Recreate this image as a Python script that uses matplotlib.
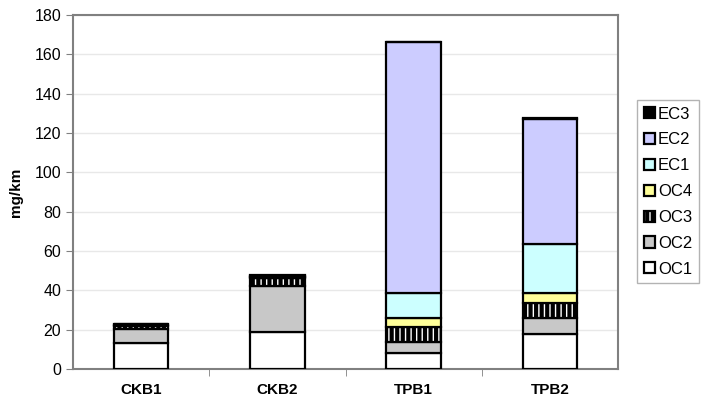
import numpy as np
import matplotlib.pyplot as plt

# carbon fractions per vehicle, mg/km (stacked bottom to top)
categories = ["CKB1", "CKB2", "TPB1", "TPB2"]
OC1 = [13.4, 18.6, 8.3, 18.0]
OC2 = [6.8, 23.6, 5.3, 7.8]
OC3 = [1.8, 3.9, 7.6, 7.9]
OC4 = [0.3, 0.3, 4.7, 5.1]
EC1 = [0.2, 0.2, 12.6, 24.7]
EC2 = [0.4, 0.8, 127.6, 63.4]
EC3 = [0.2, 0.3, 0.3, 0.5]

series = [("OC1", OC1), ("OC2", OC2), ("OC3", OC3), ("OC4", OC4),
          ("EC1", EC1), ("EC2", EC2), ("EC3", EC3)]
colors = {"OC1": "white", "OC2": "#C8C8C8", "OC3": "white", "OC4": "#FFFF99",
          "EC1": "#CCFFFF", "EC2": "#CCCCFF", "EC3": "black"}

plt.rcParams['font.family'] = ['Liberation Sans', 'DejaVu Sans']
plt.rcParams['hatch.linewidth'] = 3.0

fig = plt.figure(figsize=(7.08, 4.07), dpi=100)
ax = fig.add_axes([73/708, 38/407, 545/708, 354/407])

x = np.arange(len(categories))
bottom = np.zeros(len(categories))
handles = {}
for name, vals in series:
    h = ax.bar(x, vals, 0.4, bottom=bottom, color=colors[name], edgecolor="black",
               linewidth=1.6, hatch="|||" if name == "OC3" else None, label=name, zorder=3)
    handles[name] = h
    bottom += np.array(vals)

ax.set_xlim(-0.5, len(categories) - 0.5)
ax.set_ylim(0, 180)
ax.set_yticks(np.arange(0, 181, 20))
ax.set_xticks(x)
ax.set_xticklabels(categories, fontsize=11, fontweight="bold")
ax.set_xticks(np.arange(0.5, len(categories) - 0.5, 1), minor=True)
ax.tick_params(axis="x", which="major", length=0, pad=10)
ax.tick_params(axis="x", which="minor", length=5, color="#808080")
ax.tick_params(axis="y", length=5, color="#808080", labelsize=11.5)
ax.grid(axis="y", color="#E8E8E8", linewidth=1, zorder=0)
for sp in ax.spines.values():
    sp.set_color("#808080")
    sp.set_linewidth(1.5)
ax.set_ylabel("mg/km", fontsize=11, fontweight="bold", labelpad=8)

order = ["EC3", "EC2", "EC1", "OC4", "OC3", "OC2", "OC1"]
leg = fig.legend([handles[n] for n in order], order, loc="upper left",
                 bbox_to_anchor=(637/708, 1 - 100/407), frameon=True, fancybox=False,
                 edgecolor="#A0A0A0", fontsize=12, handlelength=0.65, handleheight=0.65,
                 handletextpad=0.2, labelspacing=0.65, borderpad=0.4, borderaxespad=0)
leg.get_frame().set_linewidth(1.0)

fig.savefig("out.png", dpi=100)
